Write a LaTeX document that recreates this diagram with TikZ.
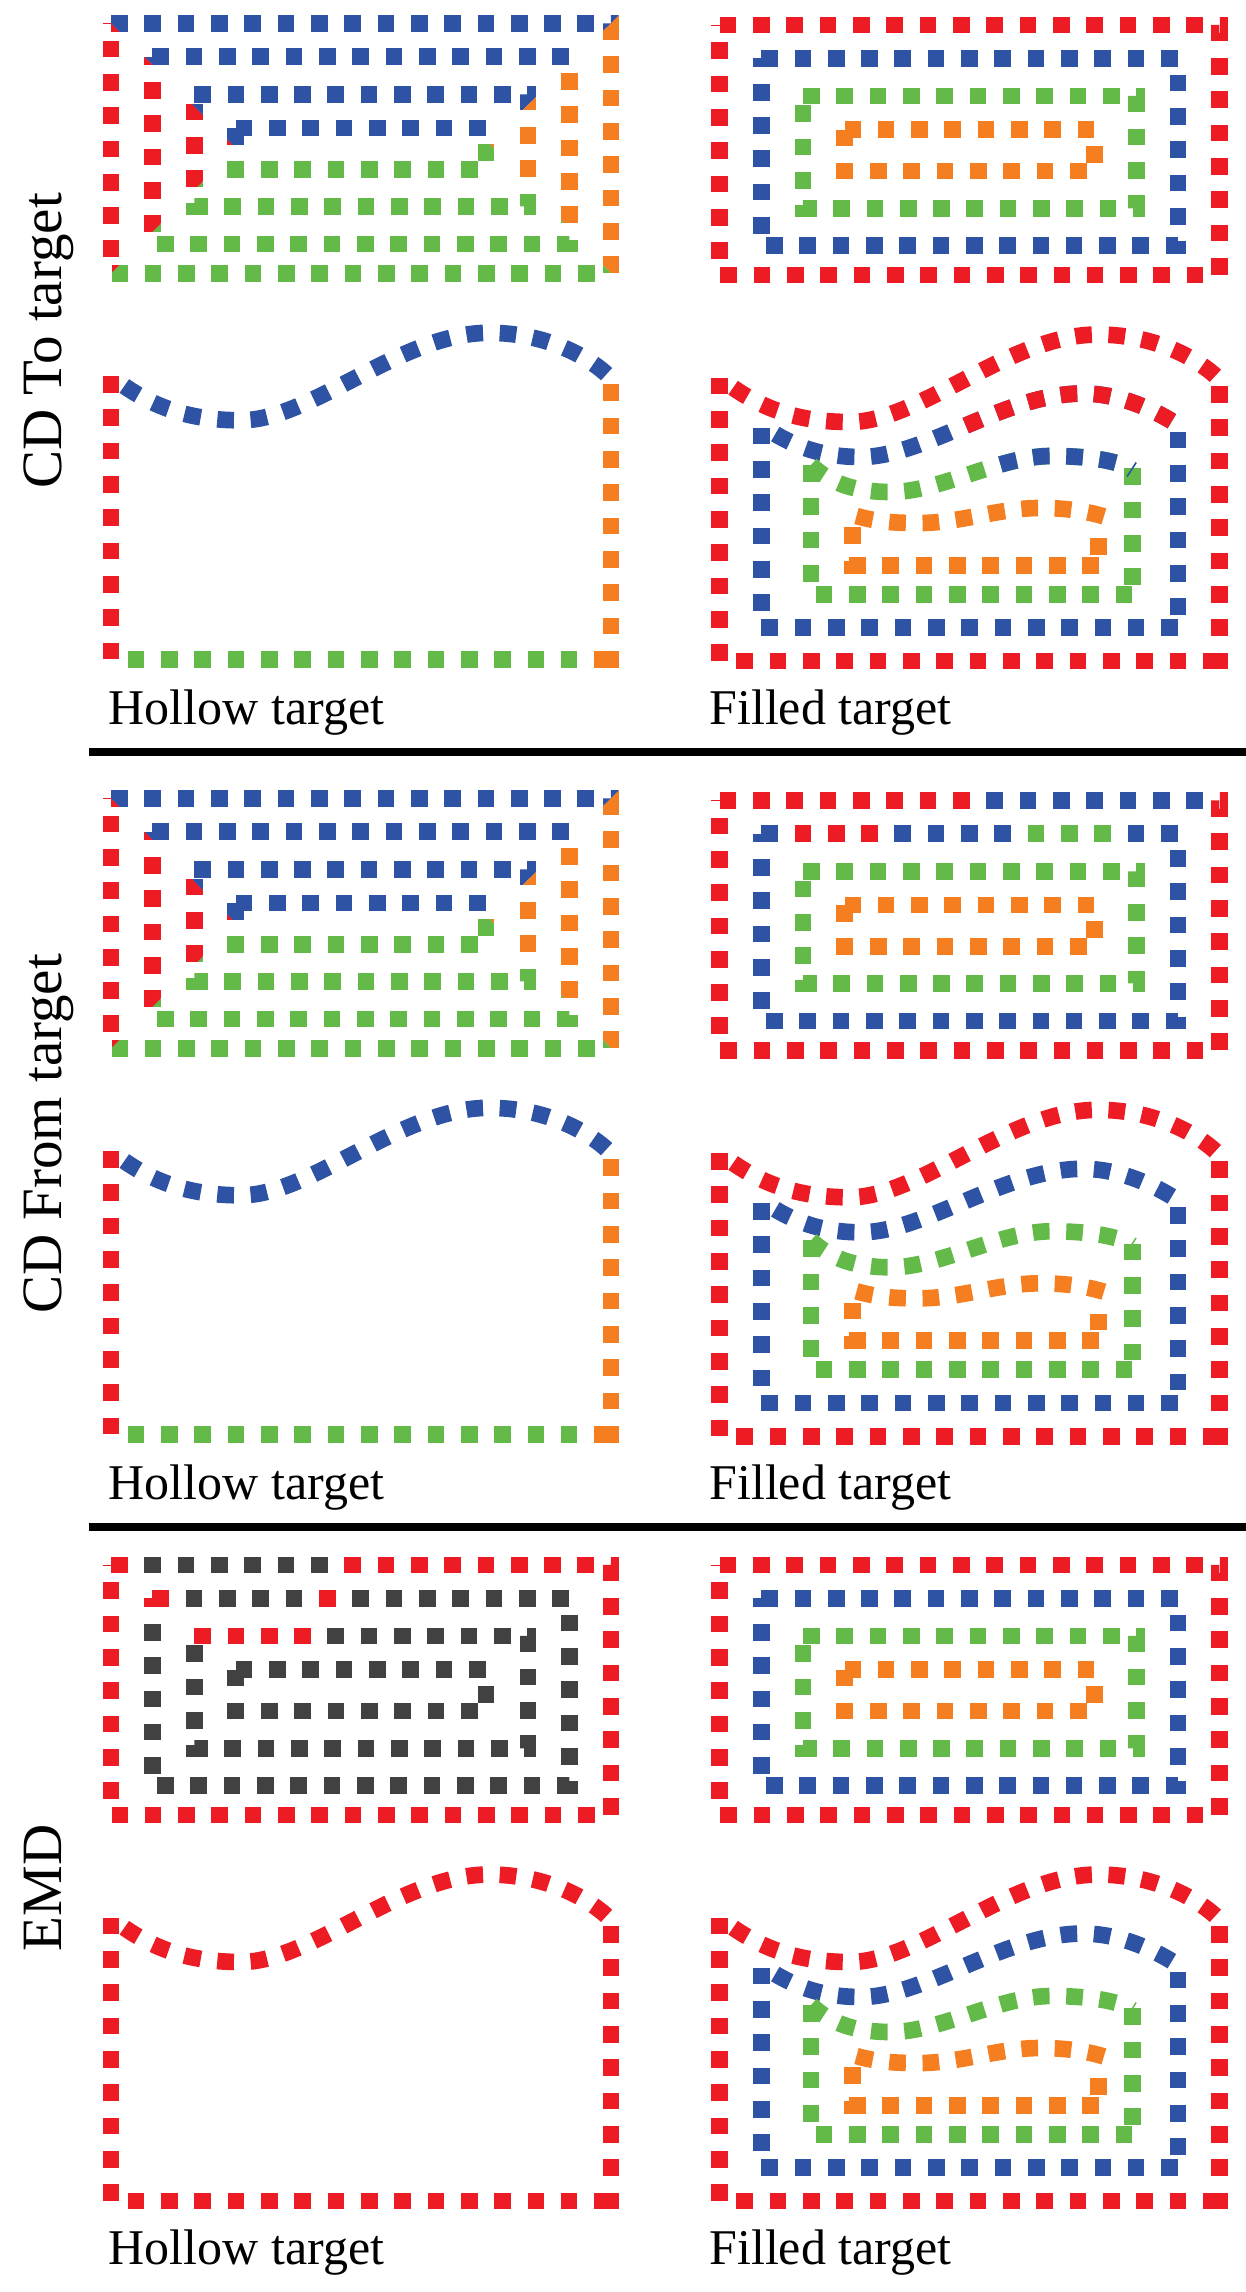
\documentclass[tikz,border=0pt]{standalone}
\usepackage{fontspec}
\setmainfont{Liberation Serif}
\definecolor{cred}{RGB}{237,28,36}
\definecolor{cblue}{RGB}{46,82,164}
\definecolor{cgreen}{RGB}{99,186,72}
\definecolor{corange}{RGB}{244,126,32}
\definecolor{cgray}{RGB}{65,65,65}
\tikzset{
  sq/.style={line width=8.33pt, dash pattern=on 8.33pt off 8.33pt, line join=miter},
  lab/.style={font=\fontsize{25}{30}\selectfont, inner sep=0pt, anchor=base west},
  vlab/.style={font=\fontsize{28.5}{34}\selectfont, inner sep=0pt, rotate=90, anchor=base},
  sepline/.style={line width=3.65pt, black}
}
% rectangular loops
\newcommand\LpA[1]{\draw[sq,#1] (0,0) -- (500,0) -- (500,250) -- (0,250) -- cycle;}
\newcommand\LpB[1]{\draw[sq,#1] (41.4,33.3) -- (458.2,33.3) -- (458.2,220.7) -- (41.4,220.7) -- cycle;}
\newcommand\LpC[1]{\draw[sq,#1] (83.2,71) -- (417,71) -- (417,183.3) -- (83.2,183.3) -- cycle;}
\newcommand\LpD[1]{\draw[sq,#1] (124.7,104.7) -- (375,104.7) -- (375,146) -- (124.7,146) -- cycle;}
\newcommand\AllLoops[1]{\LpA{#1}\LpB{#1}\LpC{#1}\LpD{#1}}
\newcommand\HollowRect{%
  \begin{scope}\clip (-40,-40) -- (540.7,-40) -- (378,120) -- (125,125) -- cycle; \AllLoops{cblue}\end{scope}
  \begin{scope}\clip (540.7,-40) -- (600,-40) -- (600,290) -- (537.5,290) -- (378,120) -- cycle; \AllLoops{corange}\end{scope}
  \begin{scope}\clip (-40,290) -- (125,125) -- (378,120) -- (537.5,290) -- cycle; \AllLoops{cgreen}\end{scope}
  \begin{scope}\clip (-100,-40) -- (-40,-40) -- (125,125) -- (-40,290) -- (-100,290) -- cycle; \AllLoops{cred}\end{scope}}
% wave loops
\newcommand\WaveA[1]{\draw[sq,dash phase=8.33pt,#1] (0,352.7) .. controls (40,385) and (80,397) .. (130,397) .. controls (200,397) and (290,309.5) .. (378,309.5) .. controls (430,309.5) and (475,330) .. (500,355);}
\newcommand\WaveB[1]{\draw[sq,dash phase=8.33pt,#1] (41.5,400) .. controls (70,420) and (100,432) .. (141,432) .. controls (205,432) and (285,368.5) .. (363,368.5) .. controls (400,368.5) and (435,385) .. (458.2,400);}
\newcommand\WaveC[1]{\draw[sq,#1] (91.2,440) .. controls (110,458) and (135,467) .. (171,467) .. controls (220,467) and (280,431) .. (331,431) .. controls (370,431) and (400,436) .. (412.4,445);}
\newcommand\WaveD[1]{\draw[sq,#1] (136.7,491) .. controls (160,497.7) and (180,498) .. (200,498) .. controls (240,498) and (280,483) .. (320,483) .. controls (350,483) and (370,487) .. (386,492);}
\newcommand\HollowWave[4]{%
  \draw[sq,#1] (0,352.7) -- (0,645);
  \draw[sq,#4,dash phase=8.33pt] (0,636) -- (475,636);
  \draw[sq,#3,dash phase=12.5pt] (475,636) -- (500,636);
  \draw[sq,#3] (500,644.3) -- (500,355);
  \WaveA{#2}}
\newcommand\WLoopA[1]{\HollowWave{#1}{#1}{#1}{#1}}
\newcommand\WLoopB[1]{%
  \draw[sq,#1] (41.5,402.7) -- (41.5,598);
  \draw[sq,#1] (41.5,602.7) -- (470,602.7);
  \draw[sq,#1] (458.2,590) -- (458.2,400);
  \WaveB{#1}}
\newcommand\WLoopC[1]{%
  \draw[sq,#1] (91.2,440) -- (91.2,565);
  \draw[sq,#1] (96,569.3) -- (416,569.3);
  \draw[sq,#1] (412.4,560) -- (412.4,440);
  \WaveC{#1}}
\newcommand\WLoopD[1]{%
  \draw[sq,#1] (132.8,502.3) -- (132.8,548.6);
  \draw[sq,#1] (129.2,540.3) -- (385,540.3);
  \draw[sq,#1] (378.8,530) -- (378.8,505);
  \WaveD{#1}}
\begin{document}
\begin{tikzpicture}[x=0.5pt,y=-0.5pt]
\useasboundingbox (0,0) rectangle (1246,2292);
% ---------------- Section 1: CD To target
\begin{scope}[shift={(111,23.3)}]
  \HollowRect
  \HollowWave{cred}{cblue}{corange}{cgreen}
\end{scope}
\begin{scope}[shift={(719.8,25)}]
  \LpA{cred}\LpB{cblue}\LpC{cgreen}\LpD{corange}
  \WLoopA{cred}\WLoopB{cblue}\WLoopC{cgreen}\WLoopD{corange}
  \begin{scope}\clip (238,300) rectangle (480,450); \WaveB{cred}\end{scope}
  \begin{scope}\clip (268,400) rectangle (430,470); \WaveC{cblue}\end{scope}
\end{scope}
\node[lab] (ht1) at (108.4,724.7) {Hollow target};
\node[lab] (ft1) at (709,724.7) {Filled target};
\node[vlab] (v1) at (61.5,341) {CD To target};
\draw[sepline] (89,752) -- (1246,752);
% ---------------- Section 2: CD From target
\begin{scope}[shift={(111,798.3)}]
  \HollowRect
  \HollowWave{cred}{cblue}{corange}{cgreen}
\end{scope}
\begin{scope}[shift={(719.8,800.3)}]
  \LpA{cred}
  \begin{scope}\clip (258,-15) rectangle (488,15); \LpA{cblue}\end{scope}
  \LpB{cblue}
  \begin{scope}\clip (66,20) rectangle (166,46); \LpB{cred}\end{scope}
  \begin{scope}\clip (300,20) rectangle (400,46); \LpB{cgreen}\end{scope}
  \LpC{cgreen}\LpD{corange}
  \WLoopA{cred}\WLoopB{cblue}\WLoopC{cgreen}\WLoopD{corange}
\end{scope}
\node[lab] (ht2) at (108.4,1499.7) {Hollow target};
\node[lab] (ft2) at (709,1499.7) {Filled target};
\node[vlab] (v2) at (61.5,1134) {CD From target};
\draw[sepline] (89,1527) -- (1246,1527);
% ---------------- Section 3: EMD
\begin{scope}[shift={(111,1565)}]
  \LpA{cred}
  \begin{scope}\clip (25,-15) rectangle (225,15); \LpA{cgray}\end{scope}
  \LpB{cgray}\LpC{cgray}\LpD{cgray}
  \begin{scope}\clip (30,20) rectangle (62,46); \LpB{cred}\end{scope}
  \begin{scope}\clip (200,20) rectangle (232,46); \LpB{cred}\end{scope}
  \begin{scope}\clip (70,55) rectangle (205,79.4); \LpC{cred}\end{scope}
  \WLoopA{cred}
\end{scope}
\begin{scope}[shift={(719.8,1565)}]
  \LpA{cred}\LpB{cblue}\LpC{cgreen}\LpD{corange}
  \WLoopA{cred}\WLoopB{cblue}\WLoopC{cgreen}\WLoopD{corange}
\end{scope}
\node[lab] (ht3) at (108.4,2264.7) {Hollow target};
\node[lab] (ft3) at (709,2264.7) {Filled target};
\node[vlab] (v3) at (61.5,1888) {EMD};
\end{tikzpicture}
\end{document}
